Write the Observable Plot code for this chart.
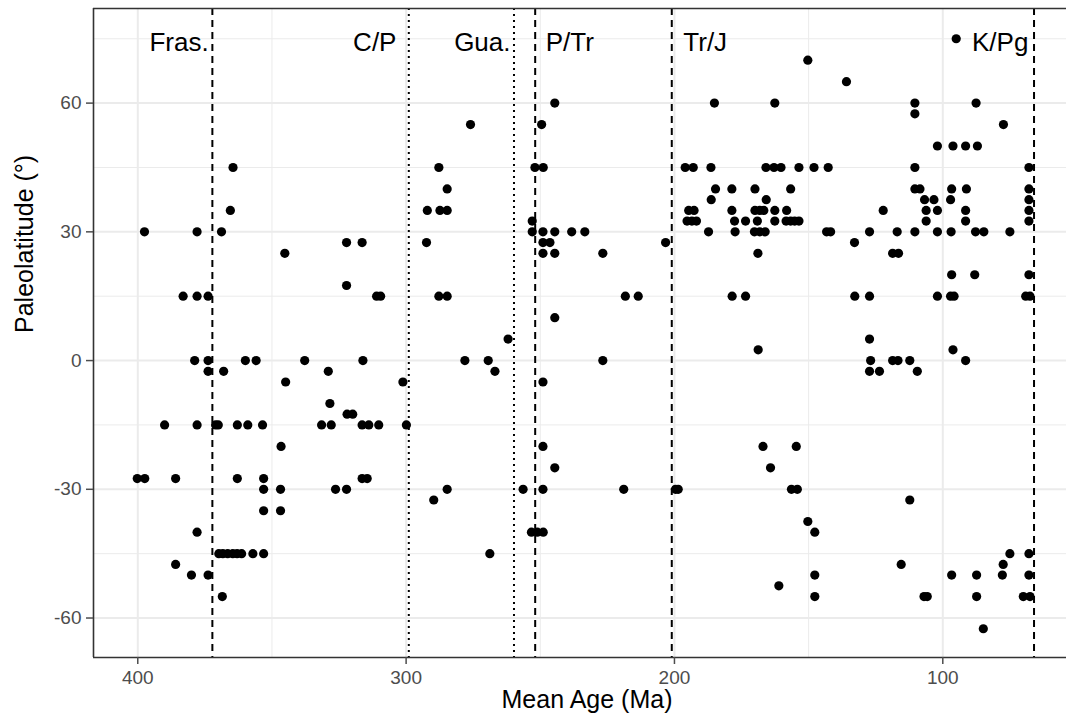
<!DOCTYPE html>
<html><head><meta charset="utf-8">
<script src="https://cdn.jsdelivr.net/npm/d3@7"></script>
<script src="https://cdn.jsdelivr.net/npm/@observablehq/plot@0.6"></script>
<style>body{margin:0;background:#fff} svg{display:block}</style>
</head><body><div id="chart"></div>
<script>
// Mean age (Ma) of each occurrence
const ages = [
  364.5,365.5,397.5,377.9,368.8,322.2,316.4,345.2,322.2,383.1,377.9,373.8,311.0,309.5,
  378.8,373.8,373.8,368.0,359.9,355.9,337.8,316.1,329.0,344.9,301.2,328.4,322.0,319.9,
  390.0,377.9,371.0,370.0,362.9,359.0,353.5,331.5,327.9,316.4,313.9,310.2,299.9,
  346.6,
  400.2,397.4,385.9,362.9,353.1,316.4,314.5,
  353.1,346.8,326.3,322.2,
  353.1,346.8,
  377.9,
  369.8,368.3,366.5,364.6,363.0,361.3,357.1,353.1,
  385.9,380.0,373.8,368.5,
  276.0,244.6,249.5,185.1,
  287.8,252.0,248.9,196.0,193.0,186.4,
  284.7,184.7,186.3,
  292.1,287.4,284.7,194.7,192.7,
  195.3,193.5,191.8,253.0,
  253.0,249.0,244.6,238.3,233.4,187.3,
  292.4,249.0,246.4,203.3,
  249.0,244.6,226.7,
  287.8,284.7,218.3,213.5,
  244.6,262.0,
  278.1,269.4,226.7,266.9,249.0,249.0,244.6,
  284.7,256.4,249.0,218.9,199.6,198.6,
  289.7,253.3,251.1,248.9,268.8,
  95.0,150.3,135.9,
  162.6,110.4,87.6,110.4,77.4,
  102.0,96.2,91.5,87.1,
  165.9,162.9,160.3,153.6,148.0,142.7,110.4,67.9,
  178.6,170.0,156.7,110.4,108.5,96.7,91.2,67.9,
  165.8,106.8,103.3,97.1,67.9,
  178.6,170.0,168.2,166.7,162.6,158.2,122.2,106.2,102.0,91.5,67.9,
  177.6,173.5,169.1,162.6,158.4,156.7,155.2,153.6,106.2,91.5,67.9,
  177.4,170.2,168.2,166.2,143.3,141.8,127.3,117.0,110.4,102.0,96.9,87.8,84.7,75.0,
  132.9,168.9,118.7,116.5,
  96.7,88.1,67.9,
  178.5,173.5,132.8,127.3,102.0,97.1,95.8,69.1,67.5,
  127.3,
  168.8,96.2,
  126.9,118.7,116.7,112.3,91.5,
  127.3,123.6,109.5,
  167.0,154.6,164.2,156.4,154.2,112.3,150.3,147.7,
  75.0,67.9,77.5,115.5,
  147.7,96.7,87.4,77.8,67.9,
  161.1,
  147.7,107.0,105.8,87.4,70.0,67.5,
  84.9
];
// Paleolatitude (°) of each occurrence
const lats = [
  45,35,30,30,30,27.5,27.5,25,17.5,15,15,15,15,15,
  0,0,-2.5,-2.5,0,0,0,0,-2.5,-5,-5,-10,-12.5,-12.5,
  -15,-15,-15,-15,-15,-15,-15,-15,-15,-15,-15,-15,-15,
  -20,
  -27.5,-27.5,-27.5,-27.5,-27.5,-27.5,-27.5,
  -30,-30,-30,-30,
  -35,-35,
  -40,
  -45,-45,-45,-45,-45,-45,-45,-45,
  -47.5,-50,-50,-55,
  55,60,55,60,
  45,45,45,45,45,45,
  40,40,37.5,
  35,35,35,35,35,
  32.5,32.5,32.5,32.5,
  30,30,30,30,30,30,
  27.5,27.5,27.5,27.5,
  25,25,25,
  15,15,15,15,
  10,5,
  0,0,0,-2.5,-5,-20,-25,
  -30,-30,-30,-30,-30,-30,
  -32.5,-40,-40,-40,-45,
  75,70,65,
  60,60,60,57.5,55,
  50,50,50,50,
  45,45,45,45,45,45,45,45,
  40,40,40,40,40,40,40,40,
  37.5,37.5,37.5,37.5,37.5,
  35,35,35,35,35,35,35,35,35,35,35,
  32.5,32.5,32.5,32.5,32.5,32.5,32.5,32.5,32.5,32.5,32.5,
  30,30,30,30,30,30,30,30,30,30,30,30,30,30,
  27.5,25,25,25,
  20,20,20,
  15,15,15,15,15,15,15,15,15,
  5,
  2.5,2.5,
  0,0,0,0,0,
  -2.5,-2.5,-2.5,
  -20,-20,-25,-30,-30,-32.5,-37.5,-40,
  -45,-45,-47.5,-47.5,
  -50,-50,-50,-50,-50,
  -52.5,
  -55,-55,-55,-55,-55,-55,
  -62.5
];

// Extinction boundaries
const dashedAges = [372.2, 251.9, 201, 66];
const dottedAges = [299, 259.8];
const labelText = ["Fras.", "C/P", "Gua.", "P/Tr", "Tr/J", "K/Pg"];
const labelAge = [373.6, 303.6, 261.1, 248.0, 196.7, 68.1];
const labelAnchor = ["end", "end", "end", "start", "start", "end"];
const labelLat = 74;

const xTicks = [100, 200, 300, 400];
const xMinor = [150, 250, 350];
const yTicks = [-60, -30, 0, 30, 60];
const yMinor = [-45, -15, 15, 45, 75];
const xDomain = [416.5, 53.9];
const yDomain = [-69.2, 82.05];

const points = ages.map((a, i) => ({age: a, lat: lats[i]}));
const labels = labelText.map((t, i) => ({text: t, age: labelAge[i], anchor: labelAnchor[i], lat: labelLat}));

const font = "'Liberation Sans', Arial, Helvetica, sans-serif";
const fmt = d => String(d);

const chart = Plot.plot({
  width: 1066,
  height: 723,
  marginLeft: 93,
  marginRight: 0,
  marginTop: 8,
  marginBottom: 66,
  style: {fontFamily: font, background: "white"},
  x: {domain: xDomain, label: null},
  y: {domain: yDomain, label: null},
  marks: [
    Plot.ruleX(xMinor, {stroke: "#EBEBEB", strokeWidth: 1}),
    Plot.ruleY(yMinor, {stroke: "#EBEBEB", strokeWidth: 1}),
    Plot.ruleX(xTicks, {stroke: "#EBEBEB", strokeWidth: 2}),
    Plot.ruleY(yTicks, {stroke: "#EBEBEB", strokeWidth: 2}),
    Plot.ruleX(dashedAges, {stroke: "black", strokeWidth: 2, strokeDasharray: "7,5"}),
    Plot.ruleX(dottedAges, {stroke: "black", strokeWidth: 2, strokeDasharray: "2,4"}),
    Plot.dot(points, {x: "age", y: "lat", r: 4.6, fill: "black", stroke: "none"}),
    Plot.text(labels.filter(d => d.anchor === "end"), {x: "age", y: "lat", text: "text", textAnchor: "end", fontSize: 26, fill: "black"}),
    Plot.text(labels.filter(d => d.anchor === "start"), {x: "age", y: "lat", text: "text", textAnchor: "start", fontSize: 26, fill: "black"}),
    Plot.ruleY([yDomain[1]], {stroke: "#333333", strokeWidth: 1.6}),
    Plot.ruleY([yDomain[0]], {stroke: "#333333", strokeWidth: 1.6}),
    Plot.ruleX([xDomain[0]], {stroke: "#333333", strokeWidth: 1.6}),
    Plot.axisX({ticks: xTicks, tickFormat: fmt, tickSize: 7, tickPadding: 6, fontSize: 19, color: "#4D4D4D", strokeWidth: 1.5, label: null}),
    Plot.axisY({ticks: yTicks, tickFormat: fmt, tickSize: 7, tickPadding: 5, fontSize: 19, color: "#4D4D4D", strokeWidth: 1.5, label: null}),
    Plot.text(["Mean Age (Ma)"], {frameAnchor: "bottom", dx: 7, dy: 50, text: d => d, fontSize: 25, fill: "black"}),
    Plot.text(["Paleolatitude (°)"], {frameAnchor: "left", dx: -69, text: d => d, rotate: -90, fontSize: 25, fill: "black"})
  ]
});
document.getElementById("chart").appendChild(chart);
</script>
</body></html>
